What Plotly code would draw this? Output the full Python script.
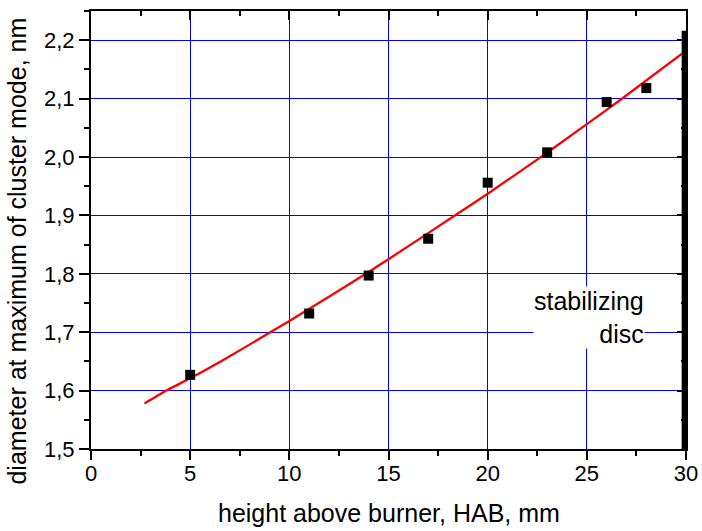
import plotly.graph_objects as go

# Measured cluster-mode diameter vs. height above burner
hab = [5, 11, 14, 17, 20, 23, 26, 28]
diam = [1.627, 1.732, 1.797, 1.860, 1.956, 2.008, 2.094, 2.118]

# Fitted curve through the measurements
fit_x = [2.7, 3.8, 5.0, 6.8, 9.0, 10.0, 13.9, 15.0, 18.4, 20.0, 22.6, 24.7, 26.7, 29.8]
fit_y = [1.578, 1.600, 1.621, 1.655, 1.699, 1.719, 1.801, 1.825, 1.901, 1.937, 1.998, 2.049, 2.098, 2.177]

# Position of the stabilizing disc
disc_x = [29.92, 29.92]
disc_y = [1.5, 2.216]

x_range = [0, 30]
y_range = [1.5, 2.25]

FONT = "Liberation Sans, Arial, sans-serif"
GRID = "#0000ff"

fig = go.Figure()

fig.add_trace(go.Scatter(
    x=fit_x, y=fit_y, mode="lines", line=dict(color="#ff0000", width=2.3, shape="spline", smoothing=0.6),
    showlegend=False, hoverinfo="skip"))

fig.add_trace(go.Scatter(
    x=hab, y=diam, mode="markers",
    marker=dict(symbol="square", size=10, color="black", line=dict(width=0)),
    showlegend=False))

fig.add_trace(go.Scatter(
    x=disc_x, y=disc_y, mode="lines", line=dict(color="black", width=5.5),
    showlegend=False, hoverinfo="skip", cliponaxis=False))

# Invisible trace so the mirrored (top/right) axes are drawn
fig.add_trace(go.Scatter(x=[None], y=[None], xaxis="x2", yaxis="y2", showlegend=False))

tick_font = dict(family=FONT, size=22, color="black")

common = dict(showline=True, linecolor="black", linewidth=2, tickcolor="black",
              tickwidth=2, zeroline=False, automargin=False)

fig.update_layout(
    width=702, height=531,
    margin=dict(l=91, r=16, t=11, b=82, autoexpand=False),
    paper_bgcolor="white", plot_bgcolor="white",
    separators=", ",
    xaxis=dict(
        range=x_range, dtick=5, tick0=0, ticks="outside", ticklen=9, ticklabelstandoff=-5,
        minor=dict(dtick=2.5, ticks="outside", ticklen=5, tickwidth=2, tickcolor="black", showgrid=False),
        showgrid=True, gridcolor=GRID, gridwidth=1, tickfont=tick_font, **common,
    ),
    yaxis=dict(
        range=y_range, dtick=0.1, tick0=1.5, tickformat=".1f", ticks="outside", ticklen=10,
        minor=dict(dtick=0.05, ticks="outside", ticklen=5, tickwidth=2, tickcolor="black", showgrid=False),
        showgrid=True, gridcolor=GRID, gridwidth=1, tickfont=tick_font, **common,
    ),
    xaxis2=dict(
        range=x_range, overlaying="x", side="top", anchor="y", dtick=5, tick0=0,
        ticks="inside", ticklen=9,
        minor=dict(dtick=2.5, ticks="inside", ticklen=5, tickwidth=2, tickcolor="black", showgrid=False),
        showticklabels=False, showgrid=False, gridcolor=GRID, **common,
    ),
    yaxis2=dict(
        range=y_range, overlaying="y", side="right", anchor="x", dtick=0.1, tick0=1.5,
        ticks="inside", ticklen=9,
        minor=dict(dtick=0.05, ticks="inside", ticklen=5, tickwidth=2, tickcolor="black", showgrid=False),
        showticklabels=False, showgrid=False, gridcolor=GRID, **common,
    ),
    annotations=[
        dict(text="stabilizing<br>disc", x=27.93, y=1.7256, xref="x", yref="y",
             xanchor="right", yanchor="middle", align="right", showarrow=False,
             bgcolor="white", borderpad=0,
             font=dict(family=FONT, size=25, color="black")),
        dict(text="height above burner, HAB, mm", x=0.5, y=-0.146, xref="paper", yref="paper",
             xanchor="center", yanchor="middle", showarrow=False,
             font=dict(family=FONT, size=25, color="black")),
        dict(text="diameter at maximum of cluster mode, nm", x=-0.1235, y=0.452,
             xref="paper", yref="paper", textangle=-90,
             xanchor="center", yanchor="middle", showarrow=False,
             font=dict(family=FONT, size=25, color="black")),
    ],
)

fig.write_html("out.html")
